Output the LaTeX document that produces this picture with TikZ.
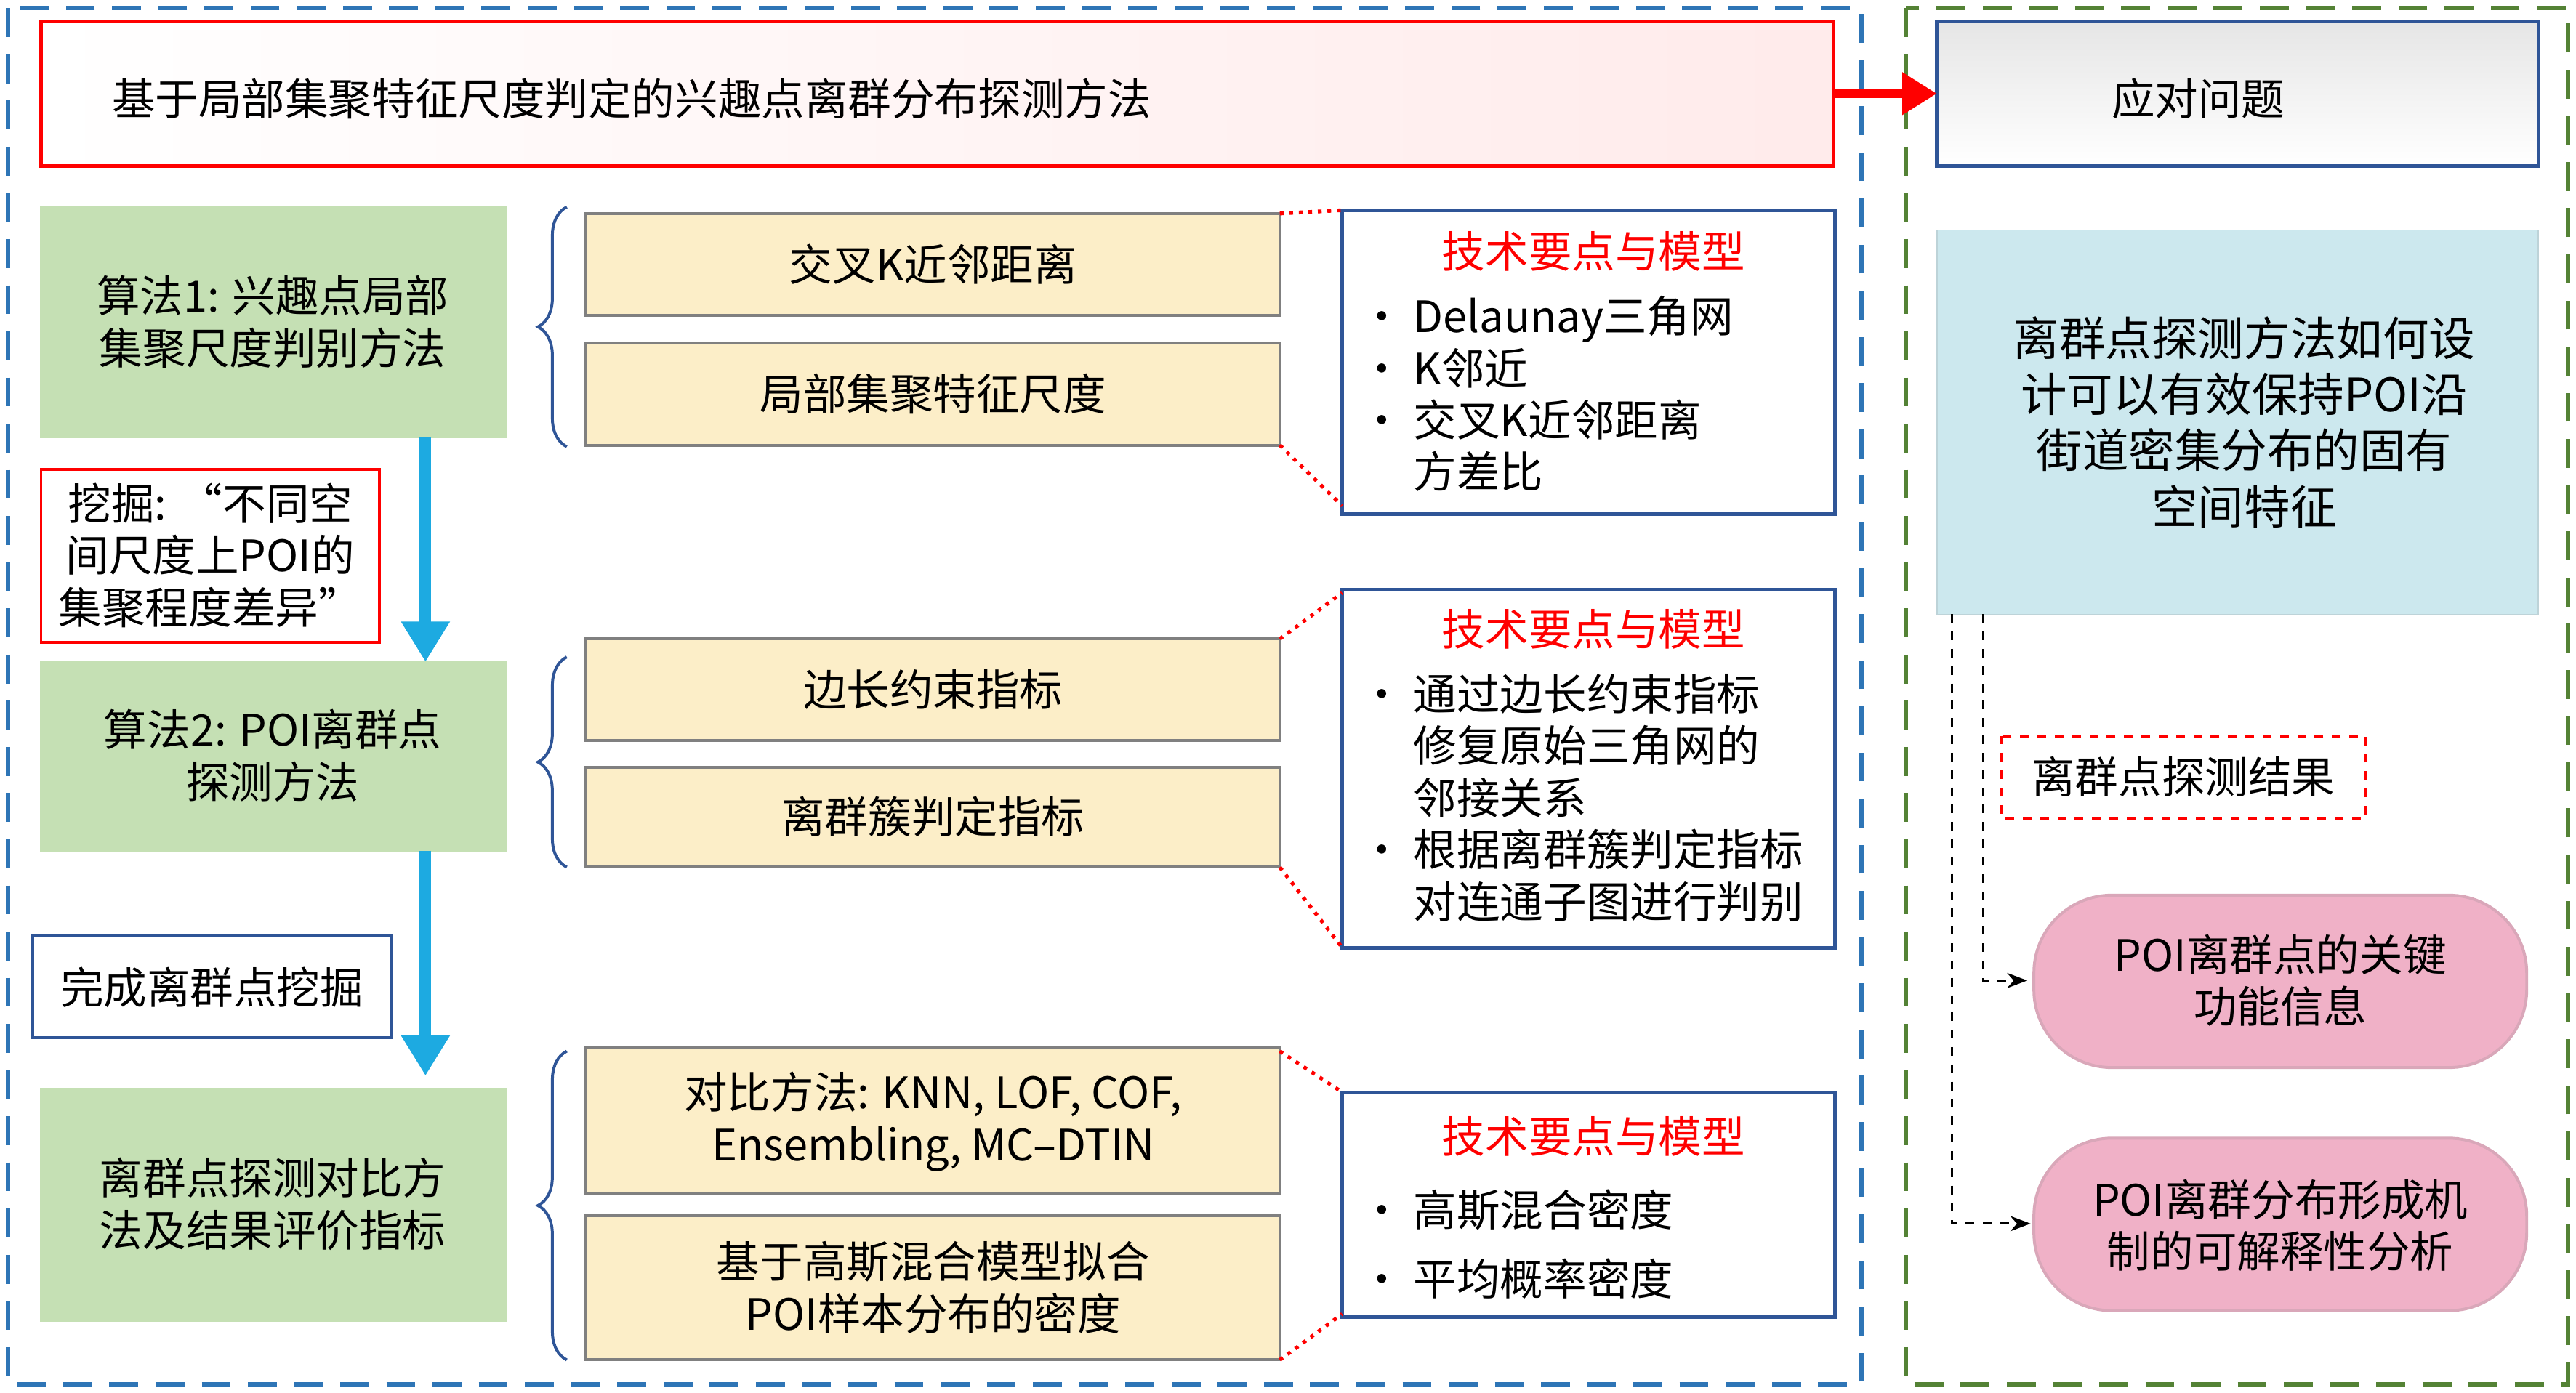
\documentclass[tikz,border=0pt]{standalone}
\usepackage{fontspec}
\setmainfont{Noto Sans CJK SC}
\usetikzlibrary{arrows.meta,decorations.pathreplacing,shadings}
\definecolor{dblue}{RGB}{46,117,182}
\definecolor{dgreen}{RGB}{84,130,53}
\definecolor{gfill}{RGB}{197,224,180}
\definecolor{yfill}{RGB}{252,238,200}
\definecolor{cfill}{RGB}{204,232,238}
\definecolor{pfill}{RGB}{240,177,199}
\definecolor{ablue}{RGB}{29,170,225}
\definecolor{tblue}{RGB}{47,85,151}
\begin{document}
\begin{tikzpicture}[x=0.02cm,y=-0.02cm,
 box/.style={draw,line width=1pt,inner sep=0pt},
 gbox/.style={box,draw=gfill,fill=gfill},
 ybox/.style={box,draw=gray,fill=yfill},
 tbox/.style={box,draw=tblue,line width=1.2pt,fill=white},
 pbox/.style={box,draw=pfill!80!gray,fill=pfill,rounded corners=27pt},
 reddot/.style={red,dotted,line width=1.3pt},
 txt/.style={font=\fontsize{15}{18}\selectfont,align=center},
 ttl/.style={font=\fontsize{15}{18}\selectfont,text=red},
 blt/.style={font=\fontsize{15}{18}\selectfont,align=left,anchor=north west}]
\useasboundingbox (0,0) rectangle (1568,848);
\draw[dblue,dashed,dash pattern=on 10pt off 6pt,line width=1.6pt] (5,5) rectangle (1133,843);
\draw[dgreen,dashed,dash pattern=on 10pt off 6pt,line width=1.6pt] (1160,5) rectangle (1563,843);
% title
\path[left color=white,right color=red!8,draw=red,line width=1.2pt] (25,13) rectangle (1116,101);
\node[txt,anchor=west] (title) at (62,60) {基于局部集聚特征尺度判定的兴趣点离群分布探测方法};
\coordinate (tr) at (1116,57);
\path[top color=gray!20,bottom color=white,draw=tblue,line width=1.2pt] (1179,13) rectangle (1545,101);
\node[txt] (prob) at (1338,60) {应对问题};
\coordinate (pl) at (1179,57);
\draw[red,line width=3pt,-{Triangle[length=12pt,width=14pt]}] (tr) -- (pl);
% green
\path[gbox] (25,126) rectangle (308,266);
\node[txt] (g1) at (166,196) {算法1: 兴趣点局部\\集聚尺度判别方法};
\path[gbox] (25,403) rectangle (308,518);
\node[txt] (g2) at (166,460) {算法2: POI离群点\\探测方法};
\path[gbox] (25,663) rectangle (308,804);
\node[txt] (g3) at (166,733) {离群点探测对比方\\法及结果评价指标};
\coordinate (a1) at (259,266); \coordinate (a2) at (259,403);
\coordinate (a3) at (259,518); \coordinate (a4) at (259,655);
\draw[ablue,line width=4pt,-{Triangle[length=14pt,width=16pt]}] (a1) -- (a2);
\draw[ablue,line width=4pt,-{Triangle[length=14pt,width=16pt]}] (a3) -- (a4);
\path[draw=red,line width=1pt,fill=white] (25,286) rectangle (231,391);
\node[txt] (wj) at (128,338) {挖掘: “不同空\\间尺度上POI的\\集聚程度差异”};
\path[draw=tblue,line width=1pt,fill=white] (20,570) rectangle (238,632);
\node[txt] (wc) at (129,601) {完成离群点挖掘};
% braces
\draw[tblue,line width=1pt,decorate,decoration={brace,amplitude=10pt,mirror}] (345,126) -- (345,272);
\draw[tblue,line width=1pt,decorate,decoration={brace,amplitude=10pt,mirror}] (345,400) -- (345,528);
\draw[tblue,line width=1pt,decorate,decoration={brace,amplitude=10pt,mirror}] (345,640) -- (345,828);
% yellow
\path[ybox] (356,130) rectangle (779,192); \node[txt] (y1) at (568,161) {交叉K近邻距离};
\path[ybox] (356,209) rectangle (779,271); \node[txt] (y2) at (568,240) {局部集聚特征尺度};
\path[ybox] (356,389) rectangle (779,451); \node[txt] (y3) at (568,420) {边长约束指标};
\path[ybox] (356,467) rectangle (779,528); \node[txt] (y4) at (568,497) {离群簇判定指标};
\path[ybox] (356,638) rectangle (779,727); \node[txt] (y5) at (568,683) {对比方法: KNN, LOF, COF,\\Ensembling, MC–DTIN};
\path[ybox] (356,740) rectangle (779,828); \node[txt] (y6) at (568,784) {基于高斯混合模型拟合\\POI样本分布的密度};
% tech boxes
\path[tbox] (817,128) rectangle (1117,313);
\node[ttl] (t1) at (970,153) {技术要点与模型};
\node[blt] (b1) at (822,174) {•\ Delaunay三角网\\•\ K邻近\\•\ 交叉K近邻距离\\\phantom{•\ }方差比};
\path[tbox] (817,359) rectangle (1117,577);
\node[ttl] (t2) at (970,383) {技术要点与模型};
\node[blt] (b2) at (822,404) {•\ 通过边长约束指标\\\phantom{•\ }修复原始三角网的\\\phantom{•\ }邻接关系\\•\ 根据离群簇判定指标\\\phantom{•\ }对连通子图进行判别};
\path[tbox] (817,665) rectangle (1117,802);
\node[ttl] (t3) at (970,692) {技术要点与模型};
\node[blt] (b3) at (822,718) {•\ 高斯混合密度\\[6pt]•\ 平均概率密度};
\draw[reddot] (779,130) -- (817,128);
\draw[reddot] (779,271) -- (817,308);
\draw[reddot] (779,389) -- (817,361);
\draw[reddot] (779,528) -- (817,577);
\draw[reddot] (779,640) -- (817,665);
\draw[reddot] (779,828) -- (817,800);
% right
\path[draw=cfill!80!gray,fill=cfill] (1179,140) rectangle (1545,374);
\node[txt,font=\fontsize{16}{19.5}\selectfont] (q) at (1366,257) {离群点探测方法如何设\\计可以有效保持POI沿\\街道密集分布的固有\\空间特征};
\path[pbox] (1238,545) rectangle (1538,650);
\node[txt] (p1) at (1388,597) {POI离群点的关键\\功能信息};
\path[pbox] (1238,693) rectangle (1538,798);
\node[txt] (p2) at (1388,746) {POI离群分布形成机\\制的可解释性分析};
\coordinate (d1) at (1188,374); \coordinate (d2) at (1207,374);
\draw[dashed,line width=0.8pt,-{Stealth[length=7pt]}] (d1) |- (1236,745);
\draw[dashed,line width=0.8pt,-{Stealth[length=7pt]}] (d2) |- (1234,597);
\path[draw=red,dashed,line width=1pt,fill=white] (1218,448) rectangle (1440,498);
\node[txt] (res) at (1329,473) {离群点探测结果};
\end{tikzpicture}
\end{document}
